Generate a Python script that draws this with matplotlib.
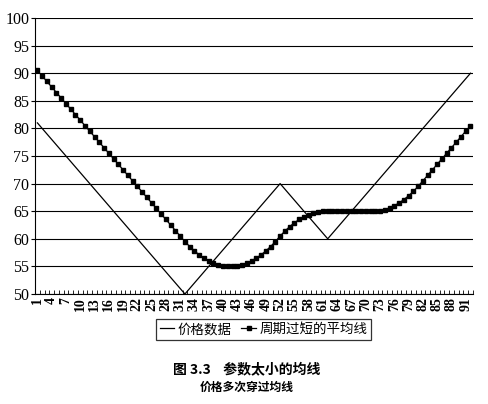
import matplotlib
matplotlib.use("Agg")
import matplotlib.pyplot as plt
from matplotlib.ticker import MultipleLocator

x_days = list(range(1, 93))
price = ([81 - i for i in range(32)] +            # 81..50
         [51 + i for i in range(20)] +            # 51..70
         [69 - i for i in range(10)] +            # 69..60
         [61 + i for i in range(30)])             # 61..90
ma_short = ([90.5, 89.5, 88.5, 87.5, 86.5, 85.5, 84.5, 83.5, 82.5, 81.5,
             80.5, 79.5, 78.5, 77.5, 76.5, 75.5, 74.5, 73.5, 72.5, 71.5,
             70.5, 69.5, 68.5, 67.5, 66.5, 65.5, 64.5, 63.5, 62.5, 61.5,
             60.5, 59.5,
             58.6, 57.8, 57.1, 56.5, 56.0, 55.6, 55.3, 55.1, 55.0, 55.0,
             55.1, 55.3, 55.6, 56.0, 56.5, 57.1, 57.8, 58.6, 59.5,
             60.5, 61.4, 62.2, 62.9, 63.5, 64.0, 64.4, 64.7, 64.9, 65.0, 65.0,
             65.0, 65.0, 65.0, 65.0, 65.0, 65.0, 65.0, 65.0, 65.0, 65.0,
             65.1, 65.3, 65.6, 66.0, 66.5, 67.1, 67.8, 68.6, 69.5,
             70.5, 71.5, 72.5, 73.5, 74.5, 75.5, 76.5, 77.5, 78.5, 79.5, 80.5])
tick_labels = [str(v) for v in range(1, 93, 3)]
series_names = ["价格数据", "周期过短的平均线"]
caption1 = "图 3.3    参数太小的均线"
caption2 = "价格多次穿过均线"

serif = ["Liberation Serif", "DejaVu Serif"]
cjk = ["Noto Sans CJK SC", "DejaVu Sans"]

fig = plt.figure(figsize=(4.89, 4.04), dpi=100)
ax = fig.add_axes([0.0716, 0.2723, 0.8954, 0.6831])

ax.plot(x_days, price, color="black", lw=0.9, label=series_names[0])
ax.plot(x_days, ma_short, color="black", lw=0.9, marker="s", markersize=3.2,
        label=series_names[1])

ax.set_xlim(0.5, 92.5)
ax.set_ylim(50, 100)
ax.yaxis.set_major_locator(MultipleLocator(5))
ax.grid(axis="y", color="black", lw=0.8)
ax.set_axisbelow(True)
for s in ["top", "right"]:
    ax.spines[s].set_visible(False)
ax.spines["left"].set_linewidth(0.8)
ax.spines["bottom"].set_linewidth(0.8)

ax.set_xticks(list(range(1, 93, 3)))
ax.set_xticklabels(tick_labels, rotation=90, family=serif, fontsize=10,
                   fontweight="bold")
ax.set_xticks([v + 0.5 for v in range(0, 93)], minor=True)
ax.tick_params(axis="x", which="major", length=0, pad=2)
ax.tick_params(axis="x", which="minor", length=3, width=0.6, direction="in")
ax.tick_params(axis="y", length=3, width=0.8, pad=1)
for lab in ax.get_yticklabels():
    lab.set_family(serif)
    lab.set_fontsize(11.5)

leg = ax.legend(loc="upper center", bbox_to_anchor=(0.522, -0.09), ncol=2,
                frameon=True, fancybox=False, edgecolor="black",
                prop={"family": cjk, "size": 9.7}, handlelength=1.1,
                handletextpad=0.25, columnspacing=0.7, borderpad=0.25,
                borderaxespad=0)
leg.get_frame().set_linewidth(0.9)

fig.text(0.505, 0.085, caption1, ha="center", va="center", fontsize=10,
         family=cjk, fontweight="bold")
fig.text(0.505, 0.04, caption2, ha="center", va="center", fontsize=8.5,
         family=cjk, fontweight="bold")

fig.savefig("out.png", dpi=100)
